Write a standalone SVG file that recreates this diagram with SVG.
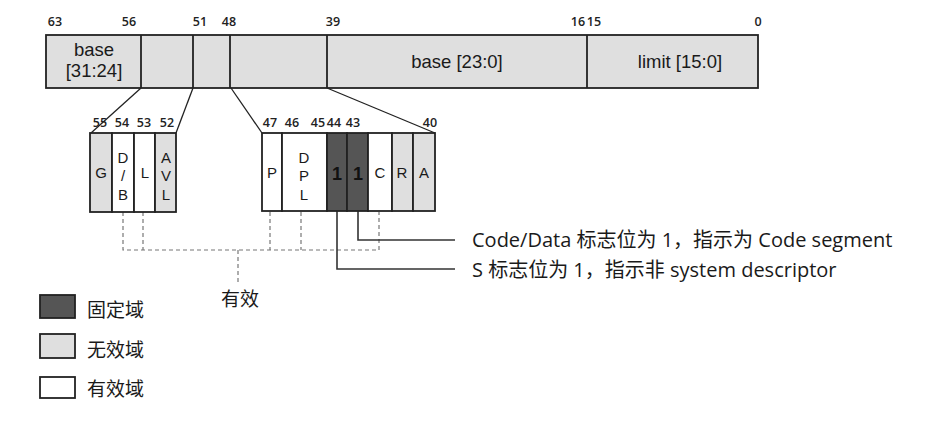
<svg xmlns="http://www.w3.org/2000/svg" width="945" height="423" viewBox="0 0 945 423">
<style>
.bg{fill:#ffffff}
.gray{fill:#dfdfdf;stroke:#222;stroke-width:1.8}
.white{fill:#ffffff;stroke:#222;stroke-width:1.8}
.dark{fill:#555555;stroke:#222;stroke-width:1.8}
.div{stroke:#222;stroke-width:1.8;fill:none}
.num{font-family:"Open Sans","Liberation Sans",sans-serif;font-size:12.5px;font-weight:600;fill:#222;text-anchor:middle}
.big{font-family:"Liberation Sans",sans-serif;font-size:18.5px;fill:#1a1a1a;text-anchor:middle}
.cell{font-family:"Liberation Sans",sans-serif;font-size:15px;fill:#1a1a1a;text-anchor:middle}
.one{font-family:"Liberation Sans",sans-serif;font-size:18px;font-weight:bold;fill:#111;text-anchor:middle}
.cap{font-family:"Open Sans","Noto Sans CJK SC",sans-serif;font-size:20px;fill:#1a1a1a}
.leg{font-family:"Noto Sans CJK SC",sans-serif;font-size:19px;fill:#1a1a1a}
.dash{stroke:#777;stroke-width:1.2;stroke-dasharray:4 3;fill:none}
.lead{stroke:#333;stroke-width:1.6;fill:none}
.fan{stroke:#222;stroke-width:1.3;fill:none}
</style>
<rect class="bg" x="0" y="0" width="945" height="423"/>

<g id="top-bar">
  <rect class="gray" x="46" y="35" width="712" height="53"/>
  <line class="div" x1="141" y1="35" x2="141" y2="88"/>
  <line class="div" x1="193" y1="35" x2="193" y2="88"/>
  <line class="div" x1="230" y1="35" x2="230" y2="88"/>
  <line class="div" x1="327" y1="35" x2="327" y2="88"/>
  <line class="div" x1="587" y1="35" x2="587" y2="88"/>
  <text class="big" x="94" y="56">base</text>
  <text class="big" x="94" y="77">[31:24]</text>
  <text class="big" x="457" y="68">base [23:0]</text>
  <text class="big" x="680" y="68">limit [15:0]</text>
  <text class="num" x="55" y="26">63</text>
  <text class="num" x="129" y="26">56</text>
  <text class="num" x="200" y="26">51</text>
  <text class="num" x="229" y="26">48</text>
  <text class="num" x="333" y="26">39</text>
  <text class="num" x="578" y="26">16</text>
  <text class="num" x="594" y="26">15</text>
  <text class="num" x="758" y="26">0</text>
</g>

<g id="connectors">
  <line class="fan" x1="141" y1="88" x2="91" y2="133"/>
  <line class="fan" x1="193" y1="88" x2="176" y2="133"/>
  <line class="fan" x1="231" y1="88" x2="262" y2="133"/>
  <line class="fan" x1="327" y1="88" x2="435" y2="133"/>
  <polyline class="dash" points="123,212 123,250 379,250 379,212"/>
  <line class="dash" x1="143" y1="212" x2="143" y2="250"/>
  <line class="dash" x1="270" y1="212" x2="270" y2="250"/>
  <line class="dash" x1="301" y1="212" x2="301" y2="250"/>
  <line class="dash" x1="238" y1="250" x2="238" y2="283"/>
  <polyline class="lead" points="337,211 337,269 455,269"/>
  <polyline class="lead" points="358,211 358,240 455,240"/>
</g>

<g id="flags-high">
  <rect class="gray" x="90" y="133" width="22" height="79"/>
  <rect class="white" x="112" y="133" width="22" height="79"/>
  <rect class="white" x="134" y="133" width="21" height="79"/>
  <rect class="gray" x="155" y="133" width="21" height="79"/>
  <text class="cell" x="101" y="178">G</text>
  <text class="cell" x="123" y="163">D</text>
  <text class="cell" x="123" y="181">/</text>
  <text class="cell" x="123" y="200">B</text>
  <text class="cell" x="145" y="178">L</text>
  <text class="cell" x="166" y="163">A</text>
  <text class="cell" x="166" y="181">V</text>
  <text class="cell" x="166" y="200">L</text>
  <text class="num" x="100" y="127">55</text>
  <text class="num" x="122" y="127">54</text>
  <text class="num" x="144" y="127">53</text>
  <text class="num" x="167" y="127">52</text>
</g>

<g id="flags-type">
  <rect class="white" x="262" y="133" width="20" height="78"/>
  <rect class="white" x="282" y="133" width="45" height="78"/>
  <rect class="dark" x="327" y="133" width="20" height="78"/>
  <rect class="dark" x="347" y="133" width="21" height="78"/>
  <rect class="white" x="368" y="133" width="24" height="78"/>
  <rect class="gray" x="392" y="133" width="21" height="78"/>
  <rect class="gray" x="413" y="133" width="22" height="78"/>
  <text class="cell" x="272" y="178">P</text>
  <text class="cell" x="304" y="163">D</text>
  <text class="cell" x="304" y="181">P</text>
  <text class="cell" x="304" y="200">L</text>
  <text class="one" x="337" y="180">1</text>
  <text class="one" x="358" y="180">1</text>
  <text class="cell" x="380" y="178">C</text>
  <text class="cell" x="402" y="178">R</text>
  <text class="cell" x="424" y="178">A</text>
  <text class="num" x="270" y="127">47</text>
  <text class="num" x="292" y="127">46</text>
  <text class="num" x="318" y="127">45</text>
  <text class="num" x="334" y="127">44</text>
  <text class="num" x="353" y="127">43</text>
  <text class="num" x="430" y="127">40</text>
</g>

<g id="captions">
  <text class="cap" x="472" y="247">Code/Data 标志位为 1，指示为 Code segment</text>
  <text class="cap" x="472" y="277">S 标志位为 1，指示非 system descriptor</text>
  <text class="leg" x="240" y="306" text-anchor="middle">有效</text>
</g>

<g id="legend">
  <rect class="dark" x="40" y="295" width="35" height="23"/>
  <text class="leg" x="87" y="317">固定域</text>
  <rect class="gray" x="40" y="334" width="35" height="24"/>
  <text class="leg" x="87" y="357">无效域</text>
  <rect class="white" x="40" y="377" width="35" height="21"/>
  <text class="leg" x="87" y="396">有效域</text>
</g>
</svg>
